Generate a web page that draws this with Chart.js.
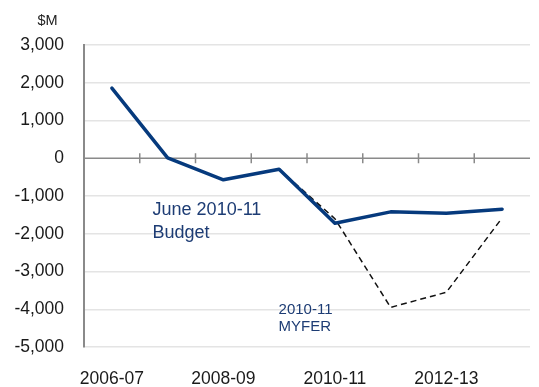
<!DOCTYPE html>
<html>
<head>
<meta charset="utf-8">
<script src="https://cdn.jsdelivr.net/npm/chart.js@4/dist/chart.umd.min.js"></script>
<style>
  html, body { margin: 0; padding: 0; background: #fff; }
  #wrap { width: 539px; height: 387px; position: relative; }
</style>
</head>
<body>
<div id="wrap"><canvas id="c"></canvas></div>
<script>
// Financial years on the horizontal axis
const years = ['2006-07', '2007-08', '2008-09', '2009-10', '2010-11', '2011-12', '2012-13', '2013-14'];
// Budget balance, $M
const budgetJune = [1860, 10, -570, -290, -1720, -1420, -1460, -1350];
const myfer = [null, null, null, -290, -1600, -3950, -3550, -1580];
// Vertical axis ticks
const yTicks = [3000, 2000, 1000, 0, -1000, -2000, -3000, -4000, -5000];

const navy = '#063a7d';
const textNavy = '#1d3c74';
const axisGrey = '#8a8a8a';
const gridGrey = '#e4e4e4';
const fontFamily = '"Liberation Sans", Arial, Helvetica, sans-serif';

// Zero line with small ticks between years, unit label and series captions
const decorations = {
  id: 'decorations',
  beforeDatasetsDraw(chart) {
    const { ctx, chartArea, scales: { x, y } } = chart;
    const y0 = y.getPixelForValue(0);
    const step = x.getPixelForValue(1) - x.getPixelForValue(0);
    ctx.save();
    ctx.strokeStyle = axisGrey;
    ctx.lineWidth = 1.5;
    ctx.beginPath();
    ctx.moveTo(chartArea.left, y0);
    ctx.lineTo(chartArea.right, y0);
    for (let i = 1; i < years.length; i++) {
      const bx = x.getPixelForValue(i) - step / 2;
      ctx.moveTo(bx, y0 - 5);
      ctx.lineTo(bx, y0 + 5);
    }
    ctx.stroke();
    ctx.restore();
  },
  afterDraw(chart) {
    const { ctx, scales: { x, y } } = chart;
    ctx.save();
    ctx.fillStyle = '#222';
    ctx.font = '14.5px ' + fontFamily;
    ctx.textAlign = 'center';
    ctx.textBaseline = 'middle';
    ctx.fillText('$M', 47.5, 20.5);

    ctx.fillStyle = textNavy;
    ctx.textAlign = 'left';
    ctx.font = '18px ' + fontFamily;
    const bx = x.getPixelForValue(0.73);
    ctx.fillText('June 2010-11', bx, y.getPixelForValue(-1380));
    ctx.fillText('Budget', bx, y.getPixelForValue(-1990));

    ctx.font = '15px ' + fontFamily;
    const mx = x.getPixelForValue(2.99);
    ctx.fillText('2010-11', mx, y.getPixelForValue(-4020));
    ctx.fillText('MYFER', mx, y.getPixelForValue(-4470));
    ctx.restore();
  }
};

new Chart(document.getElementById('c'), {
  type: 'line',
  data: {
    labels: years,
    datasets: [
      {
        label: 'June 2010-11 Budget',
        data: budgetJune,
        borderColor: navy,
        borderWidth: 3.5,
        pointRadius: 0,
        tension: 0,
        borderJoinStyle: 'round',
        borderCapStyle: 'round',
        order: 1
      },
      {
        label: '2010-11 MYFER',
        data: myfer,
        borderColor: '#111',
        borderWidth: 1.5,
        borderDash: [6, 4],
        pointRadius: 0,
        tension: 0,
        spanGaps: false,
        order: 2
      }
    ]
  },
  options: {
    responsive: true,
    maintainAspectRatio: false,
    animation: false,
    layout: { padding: { top: 45, right: 9, bottom: 0, left: 0 } },
    plugins: { legend: { display: false }, tooltip: { enabled: false } },
    scales: {
      x: {
        offset: true,
        grid: { display: false, drawTicks: false },
        border: { display: false },
        ticks: {
          autoSkip: false,
          maxRotation: 0,
          padding: 22,
          color: '#1a1a1a',
          font: { family: fontFamily, size: 17.5 },
          callback: (v, i) => (i % 2 === 0 ? years[i] : '')
        },
        afterFit: (s) => { s.height = 40; }
      },
      y: {
        min: -5000,
        max: 3000,
        afterBuildTicks: (s) => { s.ticks = yTicks.map(v => ({ value: v })); },
        grid: {
          color: (c) => (c.tick && c.tick.value === 0 ? 'rgba(0,0,0,0)' : gridGrey),
          lineWidth: 1.5,
          drawTicks: false
        },
        border: { display: true, color: axisGrey, width: 2 },
        ticks: {
          padding: 20,
          color: '#1a1a1a',
          font: { family: fontFamily, size: 17.5 },
          callback: (v) => v.toLocaleString('en-US')
        },
        afterFit: (s) => { s.width = 84; }
      }
    }
  },
  plugins: [decorations]
});
</script>
</body>
</html>
